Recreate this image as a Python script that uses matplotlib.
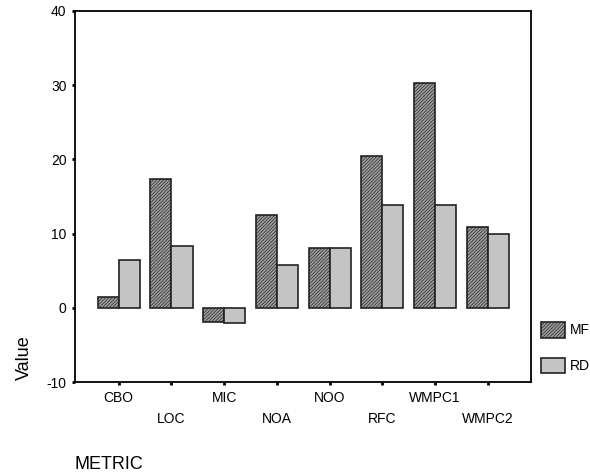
import numpy as np
import matplotlib.pyplot as plt

plt.rcParams['font.family'] = ['Liberation Sans', 'DejaVu Sans']
plt.rcParams['axes.unicode_minus'] = False
plt.rcParams['hatch.color'] = '#5e5e5e'
plt.rcParams['hatch.linewidth'] = 0.5

# data
metricas = ['CBO', 'LOC', 'MIC', 'NOA', 'NOO', 'RFC', 'WMPC1', 'WMPC2']
valores_mf = [1.4, 17.3, -1.9, 12.5, 8.1, 20.5, 30.3, 10.9]
valores_rd = [6.5, 8.3, -2.1, 5.8, 8.1, 13.8, 13.9, 10.0]

fig = plt.figure(figsize=(5.9, 4.74), dpi=100)
ax = fig.add_axes([0.127, 0.194, 0.773, 0.783])

x = np.arange(len(metricas))
largura = 0.4
ax.bar(x - largura / 2, valores_mf, largura, color='#a0a0a0', hatch='//////////',
       edgecolor='#222222', linewidth=1.2, label='MF')
ax.bar(x + largura / 2, valores_rd, largura, color='#c4c4c4',
       edgecolor='#222222', linewidth=1.2, label='RD')

ax.set_xlim(-0.83, 7.82)
ax.set_ylim(-10, 40)
ax.set_yticks([-10, 0, 10, 20, 30, 40])
ax.set_xticks(x)
ax.set_xticklabels(metricas)
ax.tick_params(axis='both', length=2.5, width=2, labelsize=10)
ax.tick_params(axis='x', pad=4)
for i, t in enumerate(ax.xaxis.get_major_ticks()):
    if i % 2 == 1:
        t.set_pad(19)

for s in ax.spines.values():
    s.set_linewidth(1.3)

fig.text(0.042, 0.245, 'Value', rotation=90, fontsize=13, ha='center', va='center')
fig.text(0.127, 0.002, 'METRIC', fontsize=13, ha='left', va='bottom')

ax.legend(loc='upper left', bbox_to_anchor=(541 / 590, 1 - 322 / 474),
          bbox_transform=fig.transFigure, frameon=False, borderpad=0,
          handlelength=1.75, handleheight=1.35, handletextpad=0.3,
          labelspacing=1.45, fontsize=10, borderaxespad=0)

fig.savefig('out.png', dpi=100)
